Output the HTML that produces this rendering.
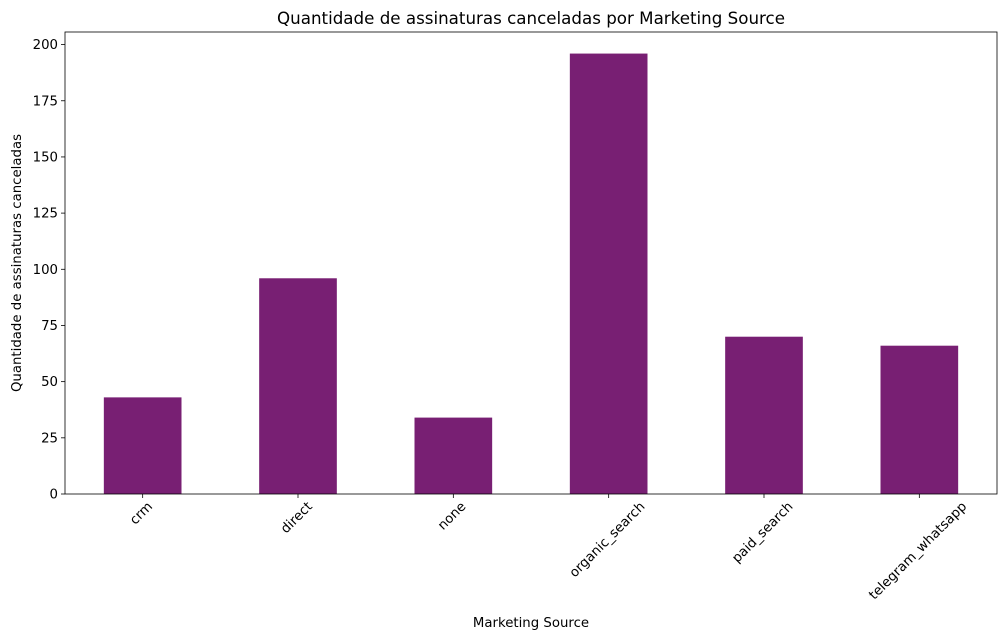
<!DOCTYPE html>
<html><head><meta charset="utf-8"><style>
body{margin:0;background:#fff;}
svg{display:block;font-family:"DejaVu Sans","Liberation Sans",sans-serif;}
</style></head><body>
<svg id="chart" width="1005" height="641" viewBox="0 0 1005 641"></svg>
<script>
const categories=["crm","direct","none","organic_search","paid_search","telegram_whatsapp"];
const values=[43,96,34,196,70,66];
const yTicks=[0,25,50,75,100,125,150,175,200];
const svg=document.getElementById('chart');
const NS='http://www.w3.org/2000/svg';
const L=65,R=997,T=32,B=494;
const FS=13.3;
const yMin=0,yMax=205.6;
function y(v){return B-(v-yMin)/(yMax-yMin)*(B-T);}
const step=(R-L)/categories.length;
function x(i){return L+step*(i+0.5);}
function mk(tag,attrs,parent){const e=document.createElementNS(NS,tag);for(const k in attrs)e.setAttribute(k,attrs[k]);(parent||svg).appendChild(e);return e;}
categories.forEach((c,i)=>{
  const r=mk('rect',{x:x(i)-step*0.25,y:y(values[i]),width:step*0.5,height:y(0)-y(values[i]),fill:'#781f73'});
  
  
  mk('line',{x1:x(i),x2:x(i),y1:B,y2:B+4,stroke:'#000','stroke-width':0.8});
  const lb=mk('text',{x:0,y:0,'font-size':FS,'text-anchor':'middle','dominant-baseline':'central'});
  lb.textContent=c;
  
  
  const w=lb.getComputedTextLength();
  const half=(w+FS)*Math.SQRT1_2/2;
  const cx=x(i)-1, cy=B+6+half;
  lb.setAttribute('x',cx);lb.setAttribute('y',cy);
  lb.setAttribute('transform',`rotate(-45 ${cx} ${cy})`);
});
yTicks.forEach(v=>{
  mk('line',{x1:L-4,x2:L,y1:y(v),y2:y(v),stroke:'#000','stroke-width':0.8});
  const t=mk('text',{x:L-7,y:y(v)+4.5,'font-size':FS,'text-anchor':'end'});
  t.textContent=v;
  
  
});
const frame=mk('rect',{x:L,y:T,width:R-L,height:B-T,fill:'none',stroke:'#000','stroke-width':0.8});


const title=mk('text',{x:(L+R)/2,y:24,'font-size':16.7,'text-anchor':'middle'});
title.textContent='Quantidade de assinaturas canceladas por Marketing Source';


const xt=mk('text',{x:(L+R)/2,y:627,'font-size':FS,'text-anchor':'middle'});
xt.textContent='Marketing Source';


const yt=mk('text',{x:21,y:(T+B)/2,'font-size':FS,'text-anchor':'middle',transform:`rotate(-90 21 ${(T+B)/2})`});
yt.textContent='Quantidade de assinaturas canceladas';


</script>
</body></html>
